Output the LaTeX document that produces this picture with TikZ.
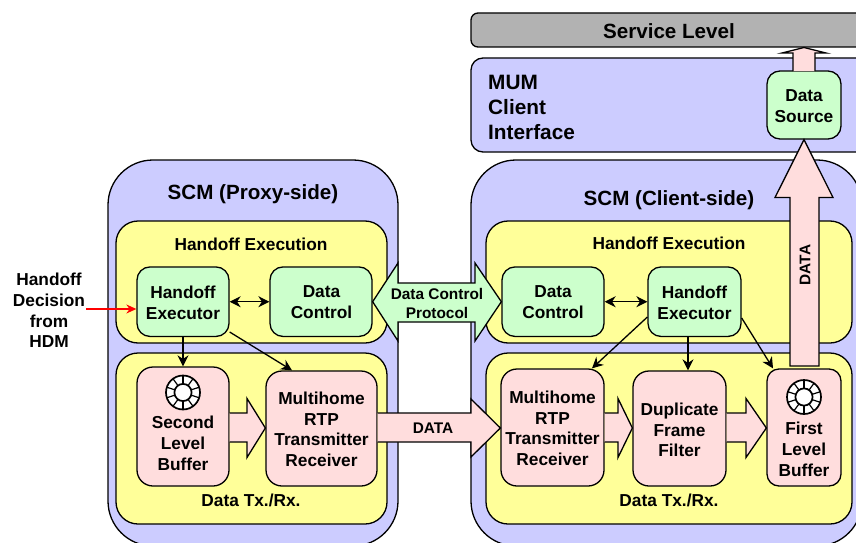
\documentclass[tikz,border=0pt]{standalone}
\usepackage{fontspec}
\setmainfont{Liberation Sans}
\definecolor{cblue}{HTML}{CCCCFF}
\definecolor{cyellow}{HTML}{FFFF99}
\definecolor{cgreen}{HTML}{CCFFCC}
\definecolor{cpink}{HTML}{FFDDDD}
\definecolor{cgrey}{HTML}{B2B2B2}
\usetikzlibrary{arrows.meta}
\tikzset{
  boxb/.style={draw=black,line width=1.3pt,inner sep=0pt,align=center,text=black},
  sized/.style 2 args={minimum width=#1,minimum height=#2},
  txt/.style={inner sep=0pt,align=center,text=black,font=\fontsize{17.3}{20.8}\selectfont\bfseries},
  small/.style={inner sep=0pt,align=center,text=black,font=\fontsize{15.4}{19}\selectfont\bfseries},
  big/.style={inner sep=0pt,align=center,text=black,font=\fontsize{20.6}{25}\selectfont\bfseries},
  scmbox/.style={boxb,fill=cblue,rounded corners=45pt},
  yellowbox/.style={boxb,fill=cyellow,rounded corners=22pt},
  greenbox/.style={boxb,fill=cgreen,rounded corners=13pt,font=\fontsize{17.3}{20.8}\selectfont\bfseries},
  pinkbox/.style={boxb,fill=cpink,rounded corners=16pt,font=\fontsize{17.3}{20.8}\selectfont\bfseries},
  block/.style={draw=black,line width=1.3pt,fill=cpink,line join=miter},
  conn/.style={draw=black,line width=1.3pt,-{Stealth[length=11pt,width=11pt]}},
  dconn/.style={draw=black,line width=1.3pt,{Stealth[length=11pt,width=11pt]}-{Stealth[length=11pt,width=11pt]}},
  ringline/.style={draw=black,line width=1.7pt,fill=white},
}
\newcommand{\hblock}[3]{%
  \fill[cpink] (#1.east |- 0,413) -- (#3,413) -- (#3,398.5) -- (#2.west |- 0,428) -- (#3,457.5) -- (#3,442) -- (#1.east |- 0,442) -- cycle;
  \draw[block,fill=none] (#1.east |- 0,413) -- (#3,413) -- (#3,398.5) -- (#2.west |- 0,428) -- (#3,457.5) -- (#3,442) -- (#1.east |- 0,442);}
\newcommand{\ringat}[3]{%
  \begin{scope}[shift={(#1,#2)}]
    \draw[ringline] (0,0) circle[radius=#3];
    \foreach \a in {18,54,...,342} {\draw[black,line width=1.2pt] (\a:8.6) -- (\a:#3);}
    \draw[ringline] (0,0) circle[radius=8.6];
  \end{scope}}
\begin{document}
\begin{tikzpicture}[x=1pt,y=-1pt]
\useasboundingbox (0,0) rectangle (856,543);
\clip (0,0) rectangle (856,543);
\fill[white] (0,0) rectangle (856,543);
% level boxes
\node[boxb,fill=cgrey,rounded corners=7pt,sized={420pt}{34pt}] (service) at (681,30) {};
\node[big] (servicet) at (669,31) {Service Level};
\node[boxb,fill=cblue,rounded corners=12pt,sized={420pt}{94pt}] (mum) at (681,105) {};
\node[inner sep=0pt,align=left,text=black,font=\fontsize{20.8}{25}\selectfont\bfseries,anchor=west] (mumt) at (488,107) {MUM\\Client\\Interface};
% SCM containers
\node[scmbox,sized={290pt}{386pt}] (scmp) at (253,353) {};
\node[scmbox,sized={391pt}{386pt}] (scmc) at (666.5,353) {};
\node[big] (scmpt) at (253,194.5) {SCM (Proxy-side)};
\node[big] (scmct) at (669,200) {SCM (Client-side)};
% yellow panels
\node[yellowbox,sized={271pt}{122pt}] (hxl) at (251.5,282) {};
\node[yellowbox,sized={271pt}{171pt}] (dtl) at (251.5,438.5) {};
\node[yellowbox,sized={366pt}{122pt}] (hxr) at (669,282) {};
\node[yellowbox,sized={366pt}{171pt}] (dtr) at (669,438.5) {};
\node[txt] (hxlt) at (251,244) {Handoff Execution};
\node[txt] (hxrt) at (669,243) {Handoff Execution};
\node[txt] (dtlt) at (251,500) {Data Tx./Rx.};
\node[txt] (dtrt) at (669,500) {Data Tx./Rx.};
% component boxes
\node[greenbox,sized={92pt}{69.5pt}] (hel) at (183,301.7) {};
\node[txt] (helt) at (183,302.5) {Handoff\\Executor};
\node[greenbox,sized={102pt}{69.5pt}] (dcl) at (321,301.7) {};
\node[txt] (dclt) at (321.5,302.5) {Data\\Control};
\node[greenbox,sized={102pt}{69.5pt}] (dcr) at (553,301.7) {};
\node[txt] (dcrt) at (553,302.5) {Data\\Control};
\node[greenbox,sized={93pt}{69.5pt}] (her) at (694.5,301.7) {};
\node[txt] (hert) at (694.5,302.5) {Handoff\\Executor};
\node[pinkbox,sized={92pt}{119pt}] (slb) at (183,426.5) {};
\node[txt] (slbt) at (183,443.5) {Second\\Level\\Buffer};
\node[pinkbox,sized={111pt}{115pt}] (mhl) at (321.5,428.5) {};
\node[txt] (mhlt) at (321.5,429.3) {Multihome\\RTP\\Transmitter\\Receiver};
\node[pinkbox,sized={103pt}{117pt}] (mhr) at (552.5,427.5) {};
\node[txt] (mhrt) at (552.5,428.3) {Multihome\\RTP\\Transmitter\\Receiver};
\node[pinkbox,sized={93pt}{115pt}] (dup) at (679.5,428.5) {};
\node[txt] (dupt) at (679.5,430) {Duplicate\\Frame\\Filter};
\node[pinkbox,rounded corners=12pt,sized={74pt}{117pt}] (flb) at (804,427.5) {};
\node[txt] (flbt) at (804,449.5) {First\\Level\\Buffer};
\node[greenbox,sized={74pt}{68pt}] (src) at (804,105) {};
\node[txt] (srct) at (804,106.5) {Data\\Source};
% buffer rings
\ringat{183}{392.5}{17}
\ringat{804}{397}{17}
% block arrows
\hblock{slb}{mhl}{247}
\hblock{mhr}{dup}{618}
\hblock{dup}{flb}{746}
\fill[cpink] (mhl.east |- 0,413) -- (471,413) -- (471,399) -- (mhr.west |- 0,428) -- (471,457) -- (471,442) -- (mhl.east |- 0,442) -- cycle;
\draw[block,fill=none] (mhl.east |- 0,413) -- (471,413) -- (471,399) -- (mhr.west |- 0,428) -- (471,457) -- (471,442) -- (mhl.east |- 0,442);
\node[small] (datah) at (433,428) {DATA};
\draw[block,fill=cgreen] (dcl.east) -- (398,263) -- (398,283) -- (475,283) -- (475,263) -- (dcr.west) -- (475,341) -- (475,322) -- (398,322) -- (398,341) -- cycle;
\node[small] (dcp) at (437,303.5) {Data Control\\Protocol};
\draw[block] (790,366) -- (790,197.5) -- (775,197.5) -- (src.south) -- (833,197.5) -- (819,197.5) -- (819,366) -- cycle;
\node[small,rotate=90] (datav) at (805,265) {DATA};
\draw[block] (793,71) -- (793,53) -- (782,53) -- (804,47.5) -- (826,53) -- (815,53) -- (815,71);
% thin connectors
\draw[conn] (hel.south) -- (hel.south |- slb.north);
\draw[conn] (hel.-33) -- (mhl.north -| 292,0);
\draw[dconn] (hel.east) -- (dcl.west);
\draw[dconn] (dcr.east) -- (her.west);
\draw[conn] (her.-162) -- (mhr.north -| 592,0);
\draw[conn] (her.south -| 688,0) -- (dup.north -| 688,0);
\draw[conn] (her.-19) -- (flb.north -| 773,0);
\coordinate (redstart) at (86,309);
\draw[red,line width=1.3pt,-{Stealth[length=10pt,width=9pt]}] (redstart) -- (hel.west |- redstart);
\node[txt] (hdm) at (49,310.5) {Handoff\\Decision\\from\\HDM};
\end{tikzpicture}
\end{document}
